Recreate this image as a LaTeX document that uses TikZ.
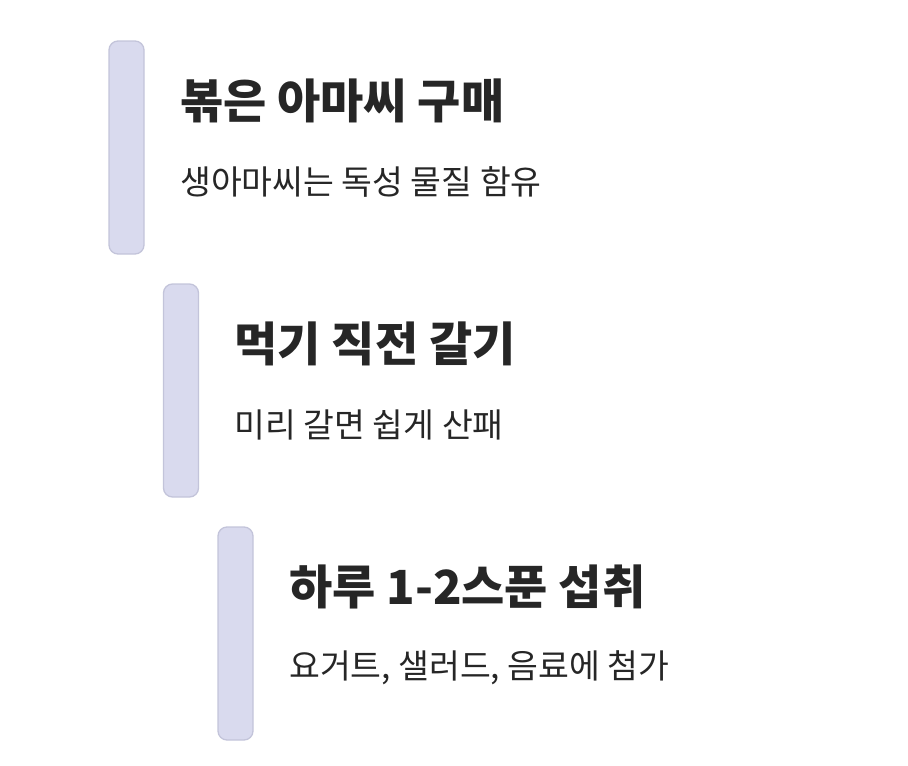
\documentclass[tikz,border=0pt]{standalone}
\usepackage{fontspec}
\newfontfamily\titlefont{Noto Sans CJK KR Black}
\newfontfamily\bodyfont{Noto Sans CJK KR}
\definecolor{barfill}{HTML}{D9DAEE}
\definecolor{barline}{HTML}{C3C4DA}
\definecolor{ink}{HTML}{262626}

\begin{document}
\begin{tikzpicture}[x=1pt, y=-1pt]
\useasboundingbox (0,0) rectangle (908,766);
\foreach \i/\head/\note in {0/{볶은 아마씨 구매}/{생아마씨는 독성 물질 함유},
                             1/{먹기 직전 갈기}/{미리 갈면 쉽게 산패},
                             2/{하루 1-2스푼 섭취}/{요거트, 샐러드, 음료에 첨가}} {
 \draw[barline, fill=barfill, line width=1.3, rounded corners=9] (109+54.5*\i,41+243*\i) rectangle ++(35,213);
 \node[anchor=west, inner sep=0, text=ink, font=\titlefont\fontsize{47}{47}\selectfont] (head\i) at (180+54.5*\i,101+243*\i) {\head};
 \node[anchor=west, inner sep=0, text=ink, font=\bodyfont\fontsize{33.5}{33.5}\selectfont] (note\i) at (180+54.5*\i,182+243*\i) {\note};
}
\end{tikzpicture}
\end{document}
